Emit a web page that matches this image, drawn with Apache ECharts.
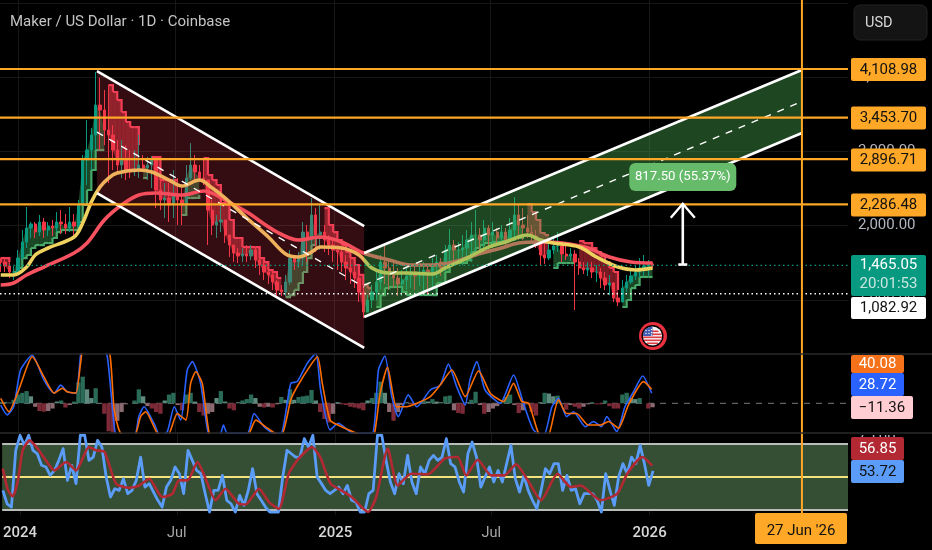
<!DOCTYPE html>
<html><head><meta charset="utf-8">
<style>html,body{margin:0;padding:0;background:#000}#c{width:932px;height:550px}</style>
<script src="https://cdn.jsdelivr.net/npm/echarts@6/dist/echarts.min.js"></script>
</head><body><div id="c"></div>
<script>
const title = "Maker / US Dollar · 1D · Coinbase";
const tickDates = ["2024-01-01","2024-07-01","2025-01-01","2025-07-01","2026-01-01"];
const tickLabels = ["2024","Jul","2025","Jul","2026"];
const priceTicks = [1000,2000,3000,4000,5000];
const rsiTicks = [75,50];
const levels = [4108.98,3453.70,2896.71,2286.48];
const lastPrice = 1465.05, dottedLevel = 1082.92;
const cursorDate = "2026-06-27", cursorLabel = "27 Jun '26";
const measureLabel = "817.50 (55.37%)", measureDate = "2026-02-09", measureFrom = 1476.5, measureTo = 2294, measureLabelAt = 2655;

// Sampled every five days from 12 Dec 2023
const highs = [1564,1564,1537,1457,1672,1941,2251,2049,2049,2143,2103,2049,2076,2183,2210,2157,2251,2157,2345,2951,3422,3314,4068,3987,3826,3893,3354,3153,3153,3085,3018,3018,3220,2951,2924,2937,2816,2682,2574,2574,2749,2641,2507,2816,3112,2951,2816,2910,2614,2345,2143,2278,2076,1860,1739,1699,1699,1739,1739,1712,1605,1537,1470,1403,1268,1201,1336,1672,1605,1645,2049,2009,2372,2237,2278,2009,1874,1807,1739,1699,1605,1564,1470,1336,1201,1066,1201,1376,1605,1766,1537,1510,1430,1403,1430,1470,1470,1457,1510,1470,1564,1605,1564,1739,1955,1807,1780,1874,1941,2049,2210,1968,2076,2009,2049,1968,2009,1968,2103,2385,2278,2237,2143,2009,1941,1807,1766,1807,1834,1914,1753,1726,1699,1672,1564,1510,1510,1510,1470,1430,1376,1336,1241,1107,1268,1336,1403,1470,1564,1605,1537,1510];
const lows = [1376,1376,1295,1268,1376,1564,1699,1834,1834,1860,1834,1860,1860,1914,1887,1887,1914,1834,1914,2278,2547,2749,3018,3018,3085,2574,2749,2722,2641,2614,2641,2668,2641,2722,2614,2507,2237,2210,2103,2049,2103,2009,2009,2278,2614,2614,2587,2547,1739,1874,1834,1914,1766,1578,1510,1497,1510,1510,1537,1430,1336,1268,1214,1134,1026,1053,1053,1201,1403,1430,1470,1510,1739,1645,1672,1645,1605,1510,1403,1376,1268,1214,1160,972,757,837,891,999,1134,1214,1134,1160,1053,1053,1134,1160,1134,1187,1107,1080,1134,1295,1322,1376,1430,1510,1537,1470,1564,1510,1645,1645,1699,1672,1699,1726,1753,1726,1780,1807,1807,1807,1834,1780,1699,1457,1484,1537,1618,1645,1510,1537,1524,864,1336,1349,1322,1295,1241,1160,1134,1066,972,918,1026,1107,1214,1268,1295,1322,1322,1430];
const closes = [1510,1457,1376,1376,1564,1780,1968,2022,1914,2049,1941,1995,1968,2049,2022,1968,2049,1995,2278,2883,3018,3220,3624,3556,3287,3220,3018,2816,2883,2749,2722,2749,2816,2776,2816,2883,2480,2345,2372,2278,2412,2345,2278,2641,2816,2722,2641,2614,2210,2009,2049,2076,1874,1739,1632,1591,1618,1591,1672,1537,1470,1376,1336,1241,1134,1107,1241,1564,1510,1564,1914,1807,2143,1874,1914,1807,1739,1672,1645,1510,1430,1376,1295,1107,837,999,1107,1241,1510,1430,1336,1295,1214,1268,1322,1376,1322,1349,1403,1376,1457,1510,1430,1672,1739,1672,1672,1699,1807,1874,1874,1807,1968,1874,1914,1834,1914,1807,1941,2143,2009,1968,1914,1860,1766,1605,1564,1672,1726,1726,1618,1591,1618,1510,1430,1403,1430,1376,1376,1295,1201,1228,1026,972,1160,1241,1322,1376,1430,1457,1484,1465.05];
const firstOpen = 1560;
const trend = [1564,1564,1510,1376,1430,1564,1605,1699,1739,1739,1766,1766,1834,1914,1941,1941,1941,1941,2049,2278,2480,2749,3018,3018,3018,3893,3799,3691,3529,3395,3327,3327,3085,2641,2641,2924,2924,2614,2614,2614,2614,2614,2143,2372,2372,2372,2412,2910,2682,2614,2547,2305,2278,2076,1834,1834,1712,1712,1712,1712,1564,1510,1403,1376,1295,1295,1039,1066,1134,1228,1376,1564,1739,1834,1847,2237,2009,1914,1807,1739,1645,1564,1470,1336,1201,1160,1160,905,1066,1160,1174,1174,1174,1107,1066,1066,1066,1066,1066,1066,1066,1228,1228,1376,1497,1497,1497,1497,1537,1645,1699,1739,1766,1766,1780,1780,1793,1807,1807,1834,1834,1847,2291,2183,2076,1901,1874,1874,1430,1497,1497,1497,1497,1497,1793,1766,1766,1699,1645,1591,1510,1430,1376,1134,905,999,1160,1201,1309,1309,1309,1309];
const trendFlips = [3,25,33,35,42,47,66,75,87,122,128,134,144];
const yellowMA = [[0,1336],[3,1336],[6,1443],[8,1605],[11,1699],[17,1847],[19,2035],[21,2318],[23,2520],[25,2641],[27,2708],[32,2749],[35,2722],[39,2614],[42,2533],[46,2614],[49,2507],[52,2372],[57,2103],[62,1847],[66,1618],[69,1578],[72,1645],[74,1712],[79,1699],[83,1605],[86,1430],[90,1362],[94,1362],[100,1349],[103,1430],[108,1564],[113,1712],[117,1780],[122,1874],[125,1807],[128,1766],[134,1712],[138,1578],[143,1443],[147,1403],[151,1430]];
const redMA = [[0,1201],[3,1228],[6,1336],[10,1443],[17,1632],[20,1766],[24,2076],[28,2278],[32,2412],[36,2439],[42,2412],[47,2466],[52,2345],[57,2183],[64,1914],[69,1807],[74,1847],[79,1780],[84,1632],[90,1537],[95,1470],[100,1470],[105,1510],[110,1605],[116,1699],[120,1766],[125,1780],[130,1766],[136,1699],[141,1578],[146,1510],[151,1497]];
const downChannel = {from:22.3, to:84.2, upper:[4081,1995], mid:[3260,1174], lower:[2439,353]};
const upChannel = {from:84.2, to:185.6, upper:[1632,4095], mid:[1201,3671], lower:[770,3247]};
const macdLine = [[0,-5],[1.5,-33],[3,-10],[4.6,95],[7.3,138],[10,67],[12.4,29],[13.9,52],[15.4,33],[17.4,29],[18.5,138],[19,170],[23.2,170],[24.7,133],[26.3,-67],[27,-95],[30.9,-95],[32,-38],[33.2,-10],[35.5,-57],[37,-95],[38.6,-81],[40.2,-10],[41.7,-48],[43.2,95],[44.4,119],[46.3,57],[47.9,-76],[49.4,-124],[51,-86],[51.6,-62],[52.5,-86],[57.1,-86],[58.7,-29],[61,-67],[63.3,-86],[64.9,-86],[67.2,57],[68.7,62],[71,114],[73,143],[74.1,38],[76.3,-76],[78.2,-57],[81.7,-86],[86,-86],[87.5,95],[89,135],[90.6,19],[92.1,-38],[94.4,24],[96.4,-10],[99.5,38],[101.8,52],[103.7,112],[105.6,48],[107.6,-5],[108.7,67],[110.3,119],[112.2,38],[115.7,0],[118.8,81],[121.1,0],[123.4,-76],[125.7,-95],[127.7,-10],[129.2,14],[131.1,-38],[132.7,-24],[135.4,-67],[137.3,-52],[139.2,-67],[140.4,-38],[142.7,-81],[144.6,-10],[146.6,33],[148.7,78],[150.8,28.72]];
const signalLine = [[0,14],[1.9,-24],[3.9,29],[6.2,108],[7.3,133],[10,76],[12.4,29],[14.3,43],[15.4,33],[17.4,29],[18.5,114],[19.3,162],[24.7,162],[26.3,-19],[27.8,-86],[30.9,-95],[32.4,-38],[33.6,-24],[36.3,-86],[38.6,-95],[40.9,-29],[42.9,-48],[44,57],[45.2,90],[46.7,57],[48.3,-86],[50.2,-124],[57.1,-95],[59.1,-48],[61.8,-71],[64.9,-95],[67.2,10],[68.7,48],[71.8,109],[73.4,133],[74.5,57],[76.3,-48],[78.6,-65],[82.5,-86],[86,-105],[87.9,29],[89.6,103],[91.7,-10],[94,-10],[96.4,0],[99.5,19],[101.8,52],[104.5,95],[107.6,19],[110.7,93],[113.4,29],[116.5,5],[118.8,57],[120.7,5],[122.3,0],[124.6,-86],[126.5,-105],[129.2,10],[131.1,-29],[133.4,-29],[136.1,-62],[138.9,-62],[140.8,-52],[143.1,-71],[145.4,-5],[148.9,62],[150.8,40.08]];
const histogram = [4,3,2,10,25,30,35,20,-10,-22,-24,-22,-15,5,8,-12,-5,5,60,76,40,15,43,0,-30,-80,-85,-50,-25,-3,0,8,40,20,-8,-15,-25,-30,8,25,30,-5,-20,25,30,5,-25,-35,-30,-25,15,35,5,-15,-20,3,8,12,25,15,-10,-12,-10,-12,-3,18,10,40,10,18,20,22,38,8,-25,-45,-55,-30,3,-3,-5,-10,-12,-15,-20,8,15,30,62,30,-25,-50,-25,-5,3,-3,-5,3,8,5,12,5,3,20,22,-20,-28,-30,3,10,33,-5,-30,-25,-15,-8,2,18,25,-5,-28,-20,-3,-25,-35,3,30,28,20,22,-3,-18,-5,-10,-15,-10,-3,3,-3,-3,8,-8,-15,-15,25,30,15,12,15,0,-15,-11.36];
const rsi = [41.9,33.8,31.8,66.2,75.3,69.2,75.3,66.2,64.1,57.1,56.1,51,54,60.1,67.2,48,57.1,46,75.3,75.3,60.1,62.1,72.2,68.2,50,37.9,42.9,41.9,49,39.9,41.9,48,62.1,43.9,46,40.9,35.9,31.8,43.9,48,56.1,52,39.9,66.2,60.1,54,52,39.9,28.8,41.9,41.9,51,35.9,33.8,28.8,38.9,32.8,41.9,55.1,39.9,35.9,31.8,28.8,28.8,28.8,50,66.2,64.1,62.1,62.1,73.2,68.2,75.3,50,46,41.9,39.9,41.9,43.9,39.9,44.9,35.9,34.8,28.8,28.8,39.9,41.9,75.3,75.3,60.1,47,39.9,52,46,63.1,47,39.9,56.1,52,60.1,63.1,60.1,62.1,73.2,58.1,56.1,47,40.9,64.1,71.2,62.1,43.9,50,56.1,47,54,47,58.1,69.2,49,40.9,51,41.9,35.9,30.8,41.9,55.1,52,58.1,58.1,41.9,51,41.9,42.9,33.8,39.9,39.9,39.9,35.9,28.8,52,41.9,32.8,50,58.1,52,62.1,58.1,69.2,58.1,44.9,53.72];
const rsiMA = [[0,55.1],[1.2,41.9],[2.3,38.3],[3.5,47.9],[4.6,66.2],[6.2,72.2],[8.1,67.2],[10,60.1],[12,54],[14.7,59.1],[17,54],[20,68.2],[21.6,66.2],[23.6,65.2],[26.3,45.9],[29.3,43.5],[31.7,44.9],[34,49],[37,37.9],[39.4,39.9],[40.9,48],[42.9,48],[45.2,59.1],[47.1,49],[49.4,35.9],[51.7,42.9],[54.8,33.8],[56.4,33.4],[59.5,42.9],[61.8,34.8],[64.1,30.8],[66.4,52],[68.7,61.1],[71.8,68.2],[73.7,62.1],[76.1,46],[78.6,41.9],[81,37.9],[84.8,28.8],[86.7,37.9],[89.4,67.2],[91.7,44.9],[94.8,52],[98.7,51.6],[102.6,61.1],[105.6,62.1],[107.6,51],[110.3,60.5],[113.4,51],[116.5,51],[119.2,57.7],[121.9,48],[125,35.9],[128.8,52],[131.9,43.9],[134.2,44.9],[138.8,35.9],[142.7,39.9],[145,52],[148.5,62.1],[150.8,56.85]];
const rsiBands = [70,50,30];

const ORANGE='#ffa726', WHITE='#ffffff';
const FONT='Roboto, sans-serif';
const DAY=86400000, T0=Date.UTC(2023,11,12);
const t=i=>T0+i*5*DAY;
const iso=s=>Date.parse(s+'T00:00:00Z');
const sideAt=i=>{let g=false;for(const f of trendFlips) if(i>=f) g=!g;return g;};
const pts=a=>a.map(p=>[t(p[0]),p[1]]);
const xMin=t(-0.162), xMax=t(196.27);

const candleData=closes.map((c,i)=>[t(i),i?closes[i-1]:firstOpen,c,lows[i],highs[i]]);
const trendData=[];
for(let i=0;i<trend.length-1;i++){ if(sideAt(i)===sideAt(i+1)) trendData.push([t(i),trend[i],closes[i],t(i+1),trend[i+1],closes[i+1],sideAt(i)?1:0]); }

const chStyle=(c,fill)=>({type:'custom',xAxisIndex:0,yAxisIndex:0,z:5,silent:true,clip:false,
  data:[[t(c.from),t(c.to),c.upper[0],c.upper[1],c.lower[0],c.lower[1],c.mid[0],c.mid[1]]],
  encode:{x:[0,1],y:[2,3,4,5]},
  renderItem(p,api){
    const a=api.coord([api.value(0),api.value(2)]),b=api.coord([api.value(1),api.value(3)]),
          e=api.coord([api.value(0),api.value(4)]),d=api.coord([api.value(1),api.value(5)]),
          m0=api.coord([api.value(0),api.value(6)]),m1=api.coord([api.value(1),api.value(7)]);
    const ln=(q,r,extra)=>({type:'line',z2:3,shape:{x1:q[0],y1:q[1],x2:r[0],y2:r[1]},style:Object.assign({stroke:WHITE,lineWidth:2.6},extra||{})});
    return {type:'group',children:[
      {type:'polygon',z2:1,shape:{points:[a,b,d,e]},style:{fill:fill}},
      ln(a,b),ln(e,d),ln(m0,m1,{lineWidth:1.4,lineDash:[7,7]})
    ]};
  }});

const hline=(v,color,width,type,z)=>({type:'line',xAxisIndex:0,yAxisIndex:0,z:z,silent:true,showSymbol:false,symbol:'none',clip:true,
  data:[[xMin,v],[xMax,v]],lineStyle:{color:color,width:width,type:type}});

const series=[
 {type:'custom',xAxisIndex:0,yAxisIndex:0,z:2,silent:true,data:trendData,clip:true,encode:{x:0,y:1},
  renderItem(p,api){
    const a=api.coord([api.value(0),api.value(1)]),ac=api.coord([api.value(0),api.value(2)]),
          b=api.coord([api.value(3),api.value(4)]),bc=api.coord([api.value(3),api.value(5)]),
          m=[b[0],a[1]],g=api.value(6)===1;
    return {type:'group',children:[
      {type:'polygon',shape:{points:[a,m,b,bc,ac]},style:{fill:g?'rgba(60,160,85,0.45)':'rgba(242,54,69,0.5)'}},
      {type:'polyline',z2:2,shape:{points:[a,m,b]},style:{fill:null,stroke:g?'#48a868':'#f23f55',lineWidth:2.2}}
    ]};
  }},
 {type:'candlestick',xAxisIndex:0,yAxisIndex:0,z:3,silent:true,barWidth:2.8,data:candleData,encode:{x:0,y:[1,2,3,4]},
  itemStyle:{color:'#089981',color0:'#f23645',borderColor:'#089981',borderColor0:'#f23645',borderWidth:1}},
 {type:'line',xAxisIndex:0,yAxisIndex:0,z:4,silent:true,symbol:'none',smooth:0.35,data:pts(redMA),lineStyle:{color:'#f7525f',width:3.6}},
 {type:'line',xAxisIndex:0,yAxisIndex:0,z:4,silent:true,symbol:'none',smooth:0.35,data:pts(yellowMA),lineStyle:{color:'#efd160',width:3.6}},
 chStyle(downChannel,'rgba(240,60,80,0.21)'),
 chStyle(upChannel,'rgba(76,175,80,0.40)'),
 hline(lastPrice,'#089981',1.2,[1.5,3],6),
 hline(dottedLevel,'#ffffff',1.6,[1.5,3],6),
 ...levels.map(v=>hline(v,ORANGE,2.2,'solid',7)),
 {type:'custom',xAxisIndex:0,yAxisIndex:0,z:8,silent:true,clip:false,
  data:[[iso(measureDate),measureFrom,measureTo,measureLabelAt]],encode:{x:0,y:[1,2,3]},
  renderItem(p,api){
    const b=api.coord([api.value(0),api.value(1)]),a=api.coord([api.value(0),api.value(2)]),l=api.coord([api.value(0),api.value(3)]);
    const s={stroke:WHITE,lineWidth:2.6};
    return {type:'group',children:[
      {type:'line',shape:{x1:a[0],y1:a[1],x2:b[0],y2:b[1]},style:s},
      {type:'line',shape:{x1:b[0]-4.5,y1:b[1],x2:b[0]+4.5,y2:b[1]},style:s},
      {type:'polyline',shape:{points:[[a[0]-12,a[1]+14],a,[a[0]+12,a[1]+14]]},style:{stroke:WHITE,lineWidth:2.4,fill:null}},
      {type:'rect',z2:5,shape:{x:l[0]-53.5,y:l[1]-14,width:107,height:28,r:6},style:{fill:'#66bb6a'}},
      {type:'text',z2:6,style:{x:l[0],y:l[1],text:measureLabel,align:'center',verticalAlign:'middle',fill:'#fff',font:'13.2px '+FONT}}
    ]};
  }},
 // MACD pane
 {type:'bar',xAxisIndex:1,yAxisIndex:1,z:2,silent:true,barWidth:4.3,
  data:histogram.map((v,i)=>{const prev=i?histogram[i-1]:v,pos=v>=0,grow=Math.abs(v)>=Math.abs(prev);
    return {value:[t(i),v],itemStyle:{color:pos?(grow?'#2a6b58':'#5f8a7e'):(grow?'#7c2a37':'#8c6a72')}};})},
 {type:'line',xAxisIndex:1,yAxisIndex:1,z:1,silent:true,symbol:'none',data:[[xMin,0],[xMax,0]],lineStyle:{color:'#787878',width:1,type:[6,6]}},
 {type:'line',xAxisIndex:1,yAxisIndex:1,z:3,silent:true,symbol:'none',smooth:0.2,data:pts(macdLine),lineStyle:{color:'#2962ff',width:1.6}},
 {type:'line',xAxisIndex:1,yAxisIndex:1,z:4,silent:true,symbol:'none',smooth:0.2,data:pts(signalLine),lineStyle:{color:'#ff6d00',width:1.6}},
 // RSI pane
 {type:'line',xAxisIndex:2,yAxisIndex:2,z:3,silent:true,symbol:'none',data:rsi.map((v,i)=>[t(i),v]),lineStyle:{color:'#5a9cf8',width:2.8,join:'round'},
  markArea:{silent:true,z:1,itemStyle:{color:'#344f34'},data:[[{xAxis:xMin,yAxis:rsiBands[0]},{xAxis:xMax,yAxis:rsiBands[2]}]]},
  markLine:{silent:true,symbol:'none',label:{show:false},z:2,data:[
    [{xAxis:xMin,yAxis:rsiBands[0],lineStyle:{color:'#b9bdb9',width:1.8,type:'solid'}},{xAxis:xMax,yAxis:rsiBands[0]}],
    [{xAxis:xMin,yAxis:rsiBands[2],lineStyle:{color:'#b9bdb9',width:1.8,type:'solid'}},{xAxis:xMax,yAxis:rsiBands[2]}],
    [{xAxis:xMin,yAxis:rsiBands[1],lineStyle:{color:'#f5e27e',width:2,type:'solid'}},{xAxis:xMax,yAxis:rsiBands[1]}]]}},
 {type:'line',xAxisIndex:2,yAxisIndex:2,z:4,silent:true,symbol:'none',smooth:0.2,data:pts(rsiMA),lineStyle:{color:'#b22833',width:2.6}},
 // cursor
 {type:'line',xAxisIndex:3,yAxisIndex:3,z:9,silent:true,symbol:'none',data:[[iso(cursorDate),0],[iso(cursorDate),1]],lineStyle:{color:ORANGE,width:2}}
];

const tickMs=tickDates.map(iso);
const xAxisBase=(idx,extra)=>Object.assign({type:'value',scale:true,gridIndex:idx,min:xMin,max:xMax,axisLine:{show:false},
  axisTick:{show:false,customValues:tickMs},
  splitLine:{show:true,lineStyle:{color:'#171717',width:1}},
  axisLabel:{show:false,customValues:tickMs}},extra||{});

const option={
 backgroundColor:'#000',animation:false,
 grid:[
  {left:0,width:848,top:0,height:352},
  {left:0,width:848,top:354,height:79},
  {left:0,width:848,top:433,height:82},
  {left:0,width:848,top:0,height:513}
 ],
 xAxis:[
  xAxisBase(0),xAxisBase(1),
  xAxisBase(2,{axisLabel:{show:true,customValues:tickMs,margin:11,hideOverlap:false,
     formatter:(v)=>{const i=tickMs.indexOf(+v);const s=tickLabels[i]||'';return s==='Jul'?'{m|'+s+'}':'{y|'+s+'}';},
     rich:{m:{color:'#a8a8a8',fontFamily:FONT,fontSize:14.5},y:{color:'#d8d8d8',fontFamily:FONT,fontSize:15,fontWeight:500}}}}),
  {type:'value',scale:true,gridIndex:3,min:xMin,max:xMax,show:false}
 ],
 yAxis:[
  {type:'value',gridIndex:0,min:299,max:5037.7,position:'right',scale:true,axisLine:{show:false},
   axisTick:{show:false,customValues:priceTicks},splitLine:{show:true,lineStyle:{color:'#171717',width:1}},
   axisLabel:{customValues:priceTicks.slice(0,4),margin:10,color:'#b2b5be',fontFamily:FONT,fontSize:15,
     formatter:v=>v.toLocaleString('en-US',{minimumFractionDigits:2,maximumFractionDigits:2})}},
  {type:'value',gridIndex:1,min:-84.9,max:140.9,position:'right',axisLine:{show:false},axisTick:{show:false},splitLine:{show:false},axisLabel:{show:false}},
  {type:'value',gridIndex:2,min:27,max:76.67,position:'right',axisLine:{show:false},axisTick:{show:false},splitLine:{show:false},
   axisLabel:{customValues:rsiTicks,margin:10,color:'#b2b5be',fontFamily:FONT,fontSize:15,formatter:v=>v.toFixed(2)}},
  {type:'value',gridIndex:3,min:0,max:1,show:false}
 ],
 series:series,
 graphic:{elements:[]}
};

// overlay labels
const tags=[
 {text:"4,108.98",box:[851,58,75,23],fill:ORANGE,color:'#111'},
 {text:"3,453.70",box:[851,106.5,75,23],fill:ORANGE,color:'#111'},
 {text:"2,896.71",box:[851,148.5,75,23],fill:ORANGE,color:'#111'},
 {text:"2,286.48",box:[851,193.5,75,23],fill:ORANGE,color:'#111'},
 {text:"1,082.92",box:[851,297,75,22],fill:'#ffffff',color:'#111'},
 {text:"40.08",box:[851,355,53,18],fill:'#f5711a',color:'#fff'},
 {text:"28.72",box:[851,373,53,23],fill:'#2962ff',color:'#fff'},
 {text:"−11.36",box:[851,396,62,23],fill:'#ffcdd2',color:'#111'},
 {text:"56.85",box:[851,437,53,23],fill:'#b22833',color:'#fff'},
 {text:"53.72",box:[851,460,53,23],fill:'#5a9cf8',color:'#111'}
];
const G=option.graphic.elements;
const rect=(x,y,w,h,fill,r,extra)=>Object.assign({type:'rect',z:100,silent:true,shape:{x,y,width:w,height:h,r:r||0},style:{fill}},extra||{});
const txt=(x,y,s,fill,size,align,extra)=>Object.assign({type:'text',z:101,silent:true,x,y,style:{text:s,fill,font:(size||15)+'px '+FONT,align:align||'left',verticalAlign:'middle'}},extra||{});
const sep=y=>({type:'line',z:90,silent:true,shape:{x1:0,y1:y,x2:932,y2:y},style:{stroke:'#2a2a2a',lineWidth:1.5}});
// the pane's top edge hides most of the upper RSI scale label
G.push(rect(851,424,75,11,'#000',0,{z:80}));
G.push(sep(354),sep(433));
G.push(txt(10,22,title,'#c4c4c4',15));
G.push(Object.assign(rect(854,5,73,35,'#141414',6),{style:{fill:'#141414',stroke:'#222222',lineWidth:1}}));
G.push(txt(865,23,"USD",'#d8d8d8',14.5));
tags.forEach(g=>{const [x,y,w,h]=g.box;G.push(rect(x,y,w,h,g.fill,2));G.push(txt(x+w/2,y+h/2+.5,g.text,g.color,15,'center'));});
G.push(rect(851,255,75,41,'#089981',2));
G.push(txt(888.5,265.5,"1,465.05",'#ffffff',15,'center'));
G.push(txt(888.5,284.5,"20:01:53",'#c9e6df',15,'center'));
G.push(rect(755,513,92,31,ORANGE,2));
G.push(txt(801,531,cursorLabel,'#111',15,'center'));
// flag badge
const cx=652.5,cy=336;
G.push({type:'circle',z:95,silent:true,shape:{cx:cx+.5,cy,r:14},style:{fill:'#e8303f'}});
G.push({type:'circle',z:96,silent:true,shape:{cx,cy,r:11},style:{fill:'#000'}});
G.push({type:'circle',z:97,silent:true,shape:{cx,cy,r:9.6},style:{fill:'#f4f4f4'}});
[[-5.5,12,1.6],[-2.5,18,1.6],[0.5,19,1.6],[3.5,17,1.6],[6.5,11,1.6]].forEach(([dy,w,h])=>G.push({type:'rect',z:98,silent:true,shape:{x:cx-w/2,y:cy+dy,width:w,height:h},style:{fill:'#e03a44'}}));
G.push({type:'sector',z:99,silent:true,shape:{cx,cy,r:9.6,startAngle:Math.PI,endAngle:Math.PI*1.5},style:{fill:'#3c5bb0'}});
[[-6.5,-5.5],[-3.5,-5.5],[-6.5,-2.5],[-3.5,-2.5],[-1,-6.5],[-1,-3.5],[-1,-1]].forEach(([dx,dy])=>G.push({type:'circle',z:99,silent:true,shape:{cx:cx+dx,cy:cy+dy,r:.7},style:{fill:'#fff'}}));

const chart=echarts.init(document.getElementById('c'),null,{renderer:'canvas'});
chart.setOption(option);
</script></body></html>
